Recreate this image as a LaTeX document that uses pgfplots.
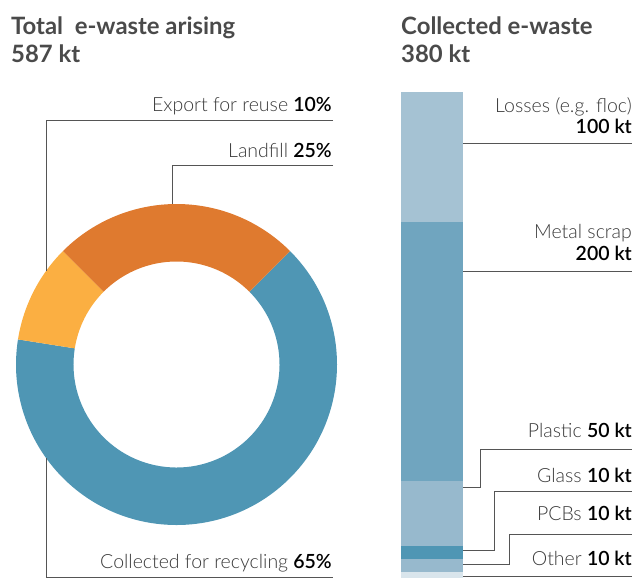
\documentclass[border=0pt]{standalone}
\usepackage{pgfplots}
\pgfplotsset{compat=1.18}
\usepackage{fontspec}
\setmainfont{Lato}
\newfontfamily\lightfont{Lato Light}
\definecolor{cblue}{HTML}{4F96B4}
\definecolor{corange}{HTML}{DF7A2F}
\definecolor{cyellow}{HTML}{FBAF42}
\definecolor{closs}{HTML}{A5C2D3}
\definecolor{cmetal}{HTML}{70A5BF}
\definecolor{cplastic}{HTML}{97B9CD}
\definecolor{cglass}{HTML}{4F96B4}
\definecolor{cpcb}{HTML}{97B9CD}
\definecolor{cother}{HTML}{D9E5EC}
\definecolor{ctitle}{HTML}{4A4A4A}
\definecolor{ctext}{HTML}{3A3A3A}
\definecolor{cline}{HTML}{555555}
\begin{document}
\begin{tikzpicture}[x=1pt,y=1pt]
\useasboundingbox (0,0) rectangle (636,-578);
\clip (0,0) rectangle (636,-578);
% titles
\tikzset{ttl/.style={anchor=base west,inner sep=0,text=ctitle,font=\fontsize{23.9}{28}\selectfont\bfseries}}
\node[ttl] at (11,-35) {Total\ \ e-waste arising};
\node[ttl] at (11,-63) {587 kt};
\node[ttl] at (401,-35) {Collected e-waste};
\node[ttl] at (401,-63) {380 kt};
% donut
\begin{axis}[at={(176.5pt,-364.5pt)}, anchor=center, scale only axis, width=321pt, height=321pt,
  xmin=-1, xmax=1, ymin=-1, ymax=1, hide axis, clip=false]
\def\ri{0.6417}
% Collected for recycling 65%: from 45 clockwise
\fill[cblue] (axis cs:{cos(45)},{sin(45)}) arc[start angle=45, end angle={45-3.6*65}, radius=160.5pt]
  -- (axis cs:{\ri*cos(45-3.6*65)},{\ri*sin(45-3.6*65)}) arc[start angle={45-3.6*65}, end angle=45, radius=103pt] -- cycle;
% Export for reuse 10%
\fill[cyellow] (axis cs:{cos(45-3.6*65)},{sin(45-3.6*65)}) arc[start angle={45-3.6*65}, end angle={45-3.6*75}, radius=160.5pt]
  -- (axis cs:{\ri*cos(45-3.6*75)},{\ri*sin(45-3.6*75)}) arc[start angle={45-3.6*75}, end angle={45-3.6*65}, radius=103pt] -- cycle;
% Landfill 25%
\fill[corange] (axis cs:{cos(45-3.6*75)},{sin(45-3.6*75)}) arc[start angle={45-3.6*75}, end angle={45-3.6*100}, radius=160.5pt]
  -- (axis cs:{\ri*cos(45-3.6*100)},{\ri*sin(45-3.6*100)}) arc[start angle={45-3.6*100}, end angle={45-3.6*75}, radius=103pt] -- cycle;
\end{axis}
% stacked bar
\begin{axis}[at={(401pt,-578pt)}, anchor=south west, scale only axis, width=62pt, height=486pt,
  xmin=-0.5, xmax=0.5, ymin=5, ymax=380, hide axis, ybar stacked, bar width=62pt, enlargelimits=false]
\addplot[fill=cother, draw=none] coordinates {(0,10)};
\addplot[fill=cpcb, draw=none] coordinates {(0,10)};
\addplot[fill=cglass, draw=none] coordinates {(0,10)};
\addplot[fill=cplastic, draw=none] coordinates {(0,50)};
\addplot[fill=cmetal, draw=none] coordinates {(0,200)};
\addplot[fill=closs, draw=none] coordinates {(0,100)};
\end{axis}
% leader lines donut
\begin{scope}[cline, line width=1pt]
\draw (333,-120) -- (46,-120) -- (46,-271);
\draw (333,-165) -- (172,-165) -- (172,-204);
\draw (46,-458) -- (46,-577) -- (333,-577);
% bar leaders
\draw (463,-143) -- (632,-143);
\draw (463,-271) -- (632,-271);
\draw (463,-487) -- (480,-487) -- (480,-449) -- (632,-449);
\draw (463,-550) -- (494,-550) -- (494,-491) -- (632,-491);
\draw (463,-564) -- (509,-564) -- (509,-534) -- (632,-534);
\draw (463,-576) -- (632,-576);
\end{scope}
% labels
\tikzset{lab/.style={anchor=base east,inner sep=0,text=ctext,font=\fontsize{19.5}{23}\selectfont\lightfont}}
\newcommand\bn[1]{{\fontsize{19.5}{23}\selectfont\bfseries\color{black}#1}}
\node[lab] at (332,-111) {Export for reuse \bn{10\%}};
\node[lab] at (332,-157) {Landfill \bn{25\%}};
\node[lab] at (332,-568) {Collected for recycling \bn{65\%}};
\node[lab] at (632,-112) {Losses (e.g. floc)};
\node[lab] at (632,-133) {\bn{100 kt}};
\node[lab] at (632,-238) {Metal scrap};
\node[lab] at (632,-260) {\bn{200 kt}};
\node[lab] at (632,-437) {Plastic \bn{50 kt}};
\node[lab] at (632,-482) {Glass \bn{10 kt}};
\node[lab] at (632,-520) {PCBs \bn{10 kt}};
\node[lab] at (632,-565) {Other \bn{10 kt}};
\end{tikzpicture}
\end{document}
